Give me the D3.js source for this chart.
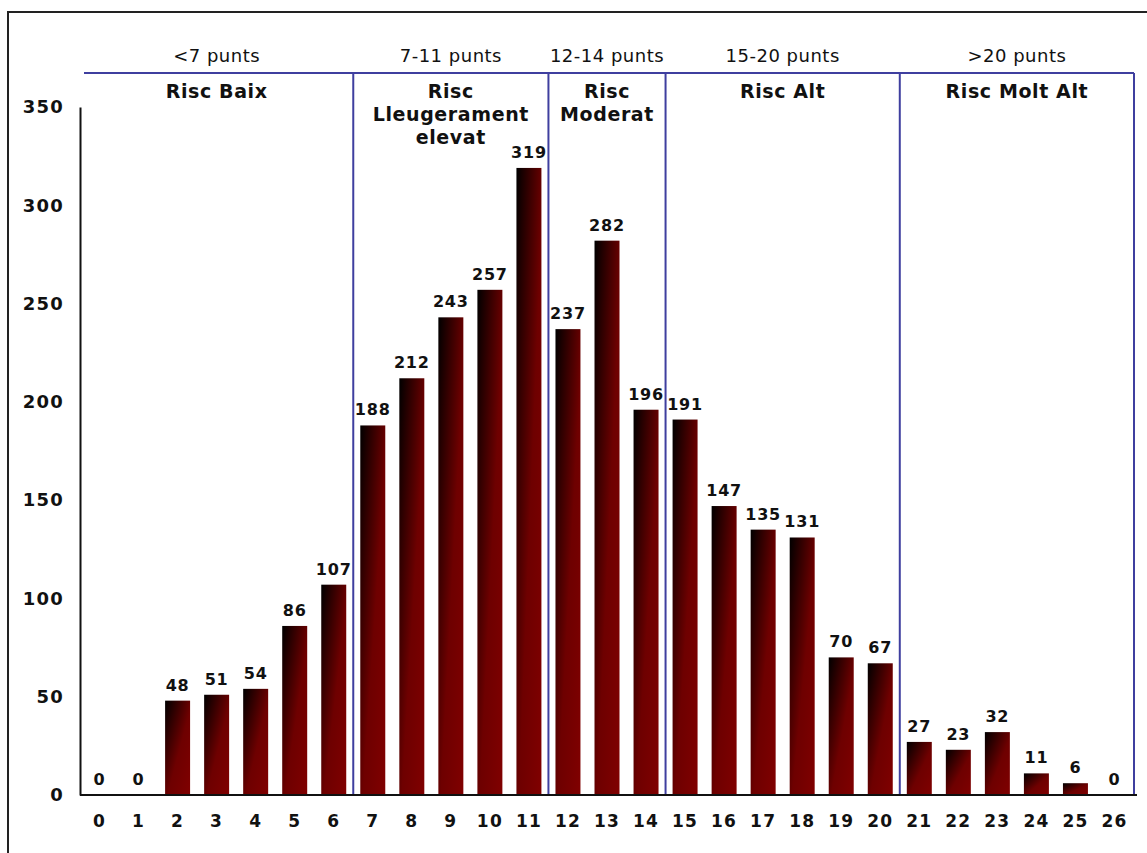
<!DOCTYPE html>
<html>
<head>
<meta charset="utf-8">
<script src="https://cdn.jsdelivr.net/npm/d3@7"></script>
<style>
  html, body { margin: 0; padding: 0; background: #fff; }
  svg { display: block; font-family: "DejaVu Sans", Verdana, sans-serif; }
</style>
</head>
<body>
<svg id="chart" width="1147" height="853"></svg>
<script>
// Score distribution (0–26 punts) grouped into risk bands
const scores = d3.range(0, 27).map(String);
const counts = [0, 0, 48, 51, 54, 86, 107, 188, 212, 243, 257, 319, 237, 282, 196,
                191, 147, 135, 131, 70, 67, 27, 23, 32, 11, 6, 0];
const yTicks = [0, 50, 100, 150, 200, 250, 300, 350];

const bandRanges = ["<7 punts", "7-11 punts", "12-14 punts", "15-20 punts", ">20 punts"];
const bandNames = [["Risc Baix"], ["Risc", "Lleugerament", "elevat"], ["Risc", "Moderat"], ["Risc Alt"], ["Risc Molt Alt"]];
const bandFirst = ["0", "7", "12", "15", "21"];
const bandLast = ["6", "11", "14", "20", "26"];

const svg = d3.select("#chart");

const x = d3.scaleBand().domain(scores).range([80, 1134]).paddingInner(0.36).paddingOuter(0.18);
const y = d3.scaleLinear().domain([0, 350]).range([795, 107]);
const step = x.step();
const bandLeft = s => x(s) - x.paddingInner() * step / 2;
const bandRight = s => bandLeft(s) + step;

// outer frame (top and left edges)
svg.append("path")
  .attr("d", "M8,853 V12 H1147")
  .attr("fill", "none").attr("stroke", "#222").attr("stroke-width", 2);

// bar gradient
const defs = svg.append("defs");
const grad = defs.append("linearGradient").attr("id", "barGrad")
  .attr("x1", 0).attr("y1", 0).attr("x2", 1).attr("y2", 1);
grad.append("stop").attr("offset", "0%").attr("stop-color", "#000000");
grad.append("stop").attr("offset", "55%").attr("stop-color", "#6e0000");
grad.append("stop").attr("offset", "100%").attr("stop-color", "#800000");

// risk band frame lines
const blue = "#3f3f9f";
const g = svg.append("g");
g.append("line")
  .attr("x1", 84).attr("x2", bandRight(bandLast[bandLast.length - 1]))
  .attr("y1", 73).attr("y2", 73)
  .attr("stroke", blue).attr("stroke-width", 2);
const dividerX = bandFirst.slice(1).map(bandLeft).concat([bandRight(bandLast[bandLast.length - 1])]);
g.selectAll("line.div").data(dividerX).join("line")
  .attr("class", "div")
  .attr("x1", d => d).attr("x2", d => d)
  .attr("y1", 73).attr("y2", y(0))
  .attr("stroke", blue).attr("stroke-width", 2);

// band header labels
const centers = bandFirst.map((f, i) => (bandLeft(f) + bandRight(bandLast[i])) / 2);
svg.selectAll("text.range").data(bandRanges).join("text")
  .attr("class", "range")
  .attr("x", (d, i) => centers[i]).attr("y", 62)
  .attr("text-anchor", "middle")
  .attr("font-size", 18).attr("letter-spacing", 0.5)
  .attr("fill", "#111")
  .text(d => d);

const names = svg.selectAll("text.name").data(bandNames).join("text")
  .attr("class", "name")
  .attr("text-anchor", "middle")
  .attr("font-size", 19).attr("font-weight", "bold").attr("letter-spacing", 0.6)
  .attr("fill", "#111");
names.selectAll("tspan").data((d, i) => d.map(t => ({ t, i }))).join("tspan")
  .attr("x", d => centers[d.i])
  .attr("y", (d, j) => 98 + j * 23)
  .text(d => d.t);

// bars
svg.append("g").selectAll("rect").data(counts).join("rect")
  .attr("x", (d, i) => x(scores[i]))
  .attr("width", x.bandwidth())
  .attr("y", d => y(d))
  .attr("height", d => y(0) - y(d))
  .attr("fill", "url(#barGrad)");

// value labels
svg.append("g").selectAll("text").data(counts).join("text")
  .attr("x", (d, i) => x(scores[i]) + x.bandwidth() / 2)
  .attr("y", d => y(d) - 10)
  .attr("text-anchor", "middle")
  .attr("font-size", 16).attr("font-weight", "bold").attr("letter-spacing", 0.8)
  .attr("fill", "#111")
  .text(d => d);

// axes
const yAxis = svg.append("g")
  .attr("transform", "translate(80,0)")
  .call(d3.axisLeft(y).tickValues(yTicks).tickSize(0).tickPadding(16));
yAxis.select(".domain").attr("stroke", "#111").attr("stroke-width", 2);
yAxis.selectAll("text")
  .attr("font-family", "DejaVu Sans, Verdana, sans-serif")
  .attr("font-size", 18).attr("font-weight", "bold").attr("letter-spacing", 1.2)
  .attr("fill", "#111");

const xAxis = svg.append("g")
  .attr("transform", `translate(0,${y(0)})`)
  .call(d3.axisBottom(x).tickSize(0).tickPadding(20));
xAxis.select(".domain").attr("d", "M80,0H1137").attr("stroke", "#111").attr("stroke-width", 2);
xAxis.selectAll("text")
  .attr("font-family", "DejaVu Sans, Verdana, sans-serif")
  .attr("font-size", 17).attr("font-weight", "bold").attr("letter-spacing", 1.2)
  .attr("fill", "#111");
</script>
</body>
</html>
